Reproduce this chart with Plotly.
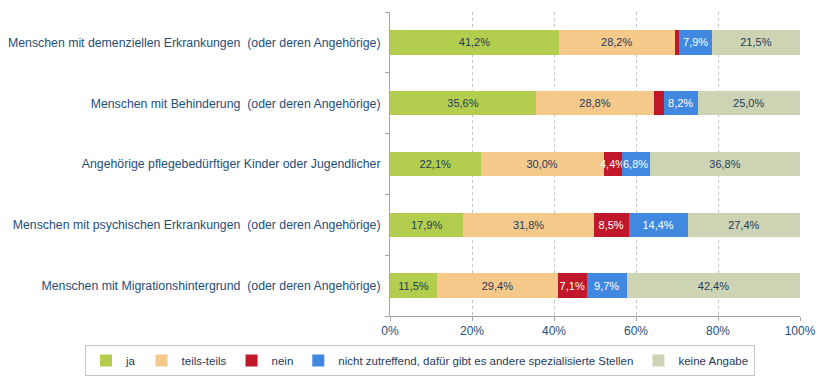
import plotly.graph_objects as go

categories = [
    "Menschen mit demenziellen Erkrankungen  (oder deren Angehörige)",
    "Menschen mit Behinderung  (oder deren Angehörige)",
    "Angehörige pflegebedürftiger Kinder oder Jugendlicher",
    "Menschen mit psychischen Erkrankungen  (oder deren Angehörige)",
    "Menschen mit Migrationshintergrund  (oder deren Angehörige)",
]
series_names = ["ja", "teils-teils", "nein",
                "nicht zutreffend, dafür gibt es andere spezialisierte Stellen",
                "keine Angabe"]
ja = [41.2, 35.6, 22.1, 17.9, 11.5]
teils = [28.2, 28.8, 30.0, 31.8, 29.4]
nein = [1.2, 2.4, 4.4, 8.5, 7.1]
nicht = [7.9, 8.2, 6.8, 14.4, 9.7]
keine = [21.5, 25.0, 36.8, 27.4, 42.4]
nein_shown = [False, False, True, True, True]

values = [ja, teils, nein, nicht, keine]
colors = ["#B3CE4E", "#F5C98A", "#C0182A", "#4189E0", "#CDD4B4"]
text_colors = ["#1F3B5C", "#1F3B5C", "#FFFFFF", "#FFFFFF", "#1F3B5C"]

fig = go.Figure()
for i, (name, vals) in enumerate(zip(series_names, values)):
    texts = []
    for j, v in enumerate(vals):
        lbl = f"{v:.1f}%".replace(".", ",")
        if i == 2 and not nein_shown[j]:
            lbl = ""
        texts.append(lbl)
    fig.add_trace(go.Bar(
        y=categories, x=vals, name=name, orientation="h",
        marker=dict(color=colors[i], line=dict(width=0)),
        text=texts, textposition="inside", insidetextanchor="middle",
        textangle=0, constraintext="none",
        textfont=dict(color=text_colors[i], size=11, family="Liberation Sans"),
        hoverinfo="skip",
    ))

# browser page has an 8px body margin: figure sits at (8, 8) in the window
W, H = 821, 371
ML, MR, MT, MB = 382, 29, 4, 63
plot_w = W - ML - MR
plot_h = H - MT - MB
fig.update_layout(
    barmode="stack", bargap=0.6,
    width=W, height=H,
    margin=dict(l=ML, r=MR, t=MT, b=MB, autoexpand=False),
    plot_bgcolor="white", paper_bgcolor="white",
    font=dict(family="Liberation Sans", size=12, color="#1F4E79"),
    legend=dict(orientation="h", x=(77 - ML) / plot_w, xanchor="left",
                y=-(337 - (MT + plot_h)) / plot_h, yanchor="top",
                bordercolor="#C8C8C8", borderwidth=1,
                font=dict(size=11.5, color="#1F3B5C"),
                itemwidth=30, traceorder="normal"),
    showlegend=True,
)
fig.update_xaxes(range=[0, 100], tickvals=[0, 20, 40, 60, 80, 100],
                 ticktext=["0%", "20%", "40%", "60%", "80%", "100%"],
                 showgrid=True, gridcolor="#BFC3CC", griddash="dot", gridwidth=1,
                 showline=True, linecolor="#A6A6A6", ticks="outside", ticklen=4,
                 tickcolor="#A6A6A6", zeroline=False, automargin=False,
                 tickfont=dict(color="#1F4E79", size=12))
fig.update_yaxes(categoryorder="array", categoryarray=categories[::-1],
                 showline=True, linecolor="#A6A6A6", ticks="outside",
                 tickson="boundaries", ticklen=4, tickcolor="#A6A6A6",
                 showgrid=False, automargin=False, ticklabelstandoff=6,
                 tickfont=dict(color="#1F4E79", size=12.3))

fig.write_html("out.html")
